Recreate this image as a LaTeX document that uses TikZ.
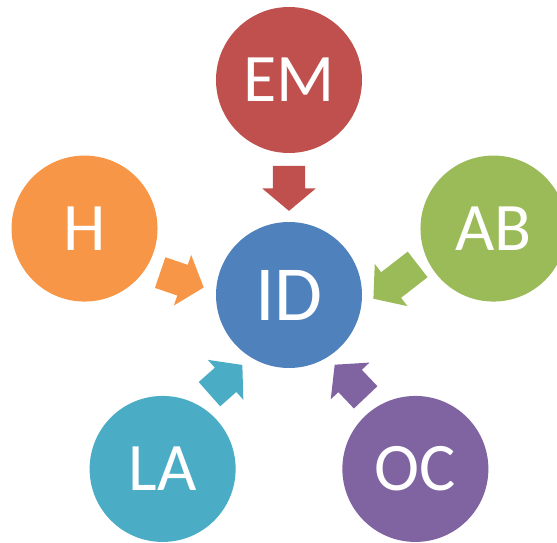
\documentclass[tikz,border=0pt]{standalone}
\usepackage{fontspec}
\setmainfont{Carlito}
\usepackage{tikz}
\usetikzlibrary{shapes,shapes.arrows,positioning,calc}
\definecolor{rdEM}{HTML}{C0504D}
\definecolor{rdID}{HTML}{4F81BD}
\definecolor{rdH}{HTML}{F79646}
\definecolor{rdAB}{HTML}{9BBB59}
\definecolor{rdLA}{HTML}{4BACC6}
\definecolor{rdOC}{HTML}{8064A2}
\tikzset{
    rdCircle/.style={
        circle,
        draw=none,
        minimum size=146pt,
        inner sep=0pt,
        text=white,
        font=\fontsize{68}{68}\selectfont
    },
    rdCore/.style={rdCircle, font=\fontsize{78}{78}\selectfont},
    % Block arrows
    rdArrow/.style={
        single arrow,
        draw=none,
        inner xsep=0pt,
        inner ysep=16pt,
        minimum width=53pt,
        single arrow head extend=10.5pt,
        single arrow tip angle=100,
        anchor=tail,
        minimum height=#1
    }
}

\begin{document}
\begin{tikzpicture}[x=1pt, y=1pt]
\useasboundingbox (0,0) rectangle (557,542);
\clip (0,0) rectangle (557,542);

% Centre
\node[rdCore, fill=rdID] (id) at (289,247) {ID};

% Outer circles
\node[rdCircle, fill=rdEM] (em) at ($(id)+(90:215)$) {EM};
\node[rdCircle, fill=rdH] (h) at ($(id)+(162:215)$) {H};
\node[rdCircle, fill=rdAB] (ab) at ($(id)+(18:215)$) {AB};
\node[rdCircle, fill=rdLA] (la) at ($(id)+(234:215)$) {LA};
\node[rdCircle, fill=rdOC] (oc) at ($(id)+(306:215)$) {OC};

% Arrows into the centre
\node[rdArrow=45, fill=rdEM, rotate=-90] (aEM) at (289,376.3) {};
\node[rdArrow=46, fill=rdH, rotate=-18.9] (aH) at (160,269.5) {};
\node[rdArrow=56, fill=rdAB, rotate=217.8] (aAB) at (417.8,277.7) {};
\node[rdArrow=44, fill=rdLA, rotate=41.6] (aLA) at (209.3,147.7) {};
\node[rdArrow=45, fill=rdOC, rotate=133.5] (aOC) at (365.8,144.5) {};
\end{tikzpicture}
\end{document}
